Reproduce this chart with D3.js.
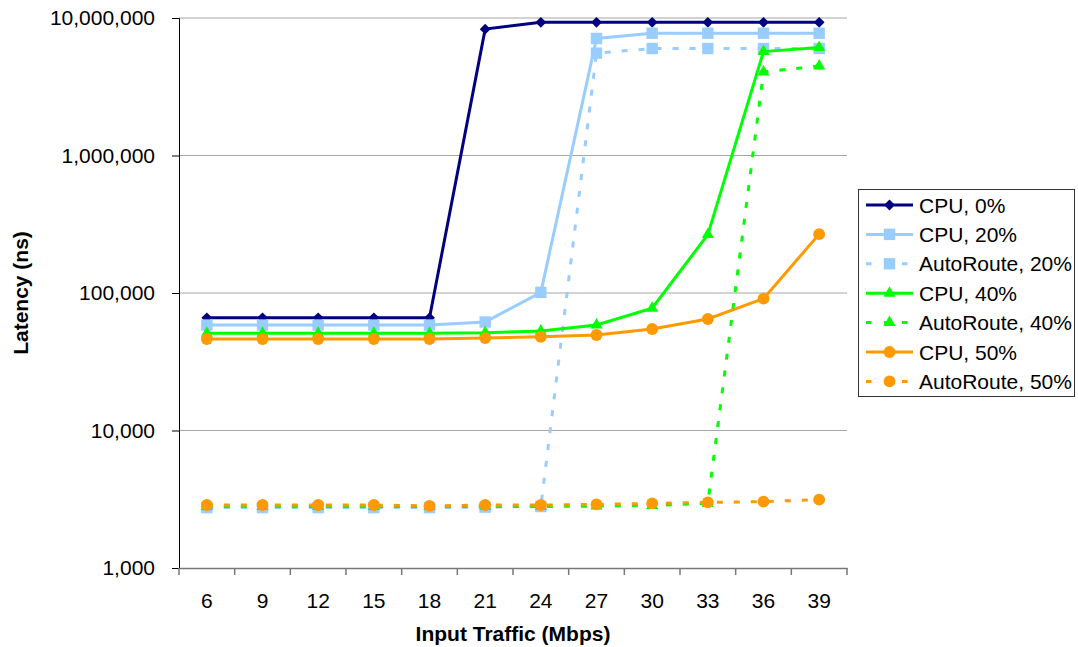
<!DOCTYPE html>
<html>
<head>
<meta charset="utf-8">
<script src="https://cdn.jsdelivr.net/npm/d3@7"></script>
<style>
  body { margin: 0; background: #fff; }
  svg { display: block; font-family: "Liberation Sans", Arial, sans-serif; }
</style>
</head>
<body>
<div class="chart"></div>
<script>
// values
const traffic = [6, 9, 12, 15, 18, 21, 24, 27, 30, 33, 36, 39];
const cpu0  = [66000, 66000, 66000, 66000, 66000, 8300000, 9300000, 9300000, 9300000, 9300000, 9300000, 9300000];
const cpu20 = [58500, 58500, 58500, 58500, 58500, 61500, 101000, 7100000, 7750000, 7750000, 7750000, 7750000];
const ar20  = [2750, 2750, 2750, 2750, 2750, 2770, 2800, 5550000, 6000000, 6000000, 6000000, 6000000];
const cpu40 = [51000, 51000, 51000, 51000, 51000, 51300, 52900, 58500, 77500, 266000, 5700000, 6100000];
const ar40  = [2800, 2800, 2800, 2800, 2800, 2800, 2800, 2820, 2850, 2950, 4050000, 4480000];
const cpu50 = [46300, 46300, 46300, 46300, 46300, 47000, 48000, 49500, 54700, 64700, 91000, 268000];
const ar50  = [2870, 2870, 2870, 2870, 2830, 2870, 2870, 2900, 2950, 3000, 3040, 3140];
const yTicks = [1000, 10000, 100000, 1000000, 10000000];

const seriesNames = ["CPU, 0%", "CPU, 20%", "AutoRoute, 20%", "CPU, 40%", "AutoRoute, 40%", "CPU, 50%", "AutoRoute, 50%"];
const seriesValues = [cpu0, cpu20, ar20, cpu40, ar40, cpu50, ar50];
const seriesColors = ["#000080", "#99ccff", "#99ccff", "#00ff00", "#00ff00", "#ff9900", "#ff9900"];
const seriesDashed = [false, false, true, false, true, false, true];
const seriesMarker = ["diamond", "square", "square", "triangle", "triangle", "circle", "circle"];

const series = seriesNames.map((name, i) => ({
  name: name,
  values: seriesValues[i].map((v, j) => ({x: traffic[j], y: v})),
  color: seriesColors[i],
  dashed: seriesDashed[i],
  marker: seriesMarker[i]
}));

const width = 1078, height = 647;
const dim = {left: 179, right: 847, top: 18, bottom: 568};

const svg = d3.select(".chart").append("svg")
  .attr("width", width)
  .attr("height", height);

const x = d3.scaleBand()
  .domain(traffic)
  .range([dim.left, dim.right]);

const y = d3.scaleLog()
  .domain([1000, 10000000])
  .range([dim.bottom, dim.top]);

const cx = d => x(d) + x.bandwidth() / 2;

// gridlines
svg.append("g")
  .selectAll("line")
  .data(yTicks.slice(1))
  .enter()
  .append("line")
  .attr("x1", dim.left)
  .attr("x2", dim.right)
  .attr("y1", d => y(d))
  .attr("y2", d => y(d))
  .attr("stroke", "#a6a6a6")
  .attr("stroke-width", 1);

// y axis
const yAxis = svg.append("g")
  .attr("transform", `translate(${dim.left},0)`)
  .call(d3.axisLeft(y).tickValues(yTicks).tickFormat(d3.format(",")).tickSize(7).tickPadding(17));
yAxis.select(".domain").attr("stroke", "#000");
yAxis.selectAll(".tick line").attr("stroke", "#000");
yAxis.selectAll("text")
  .attr("font-size", "21px")
  .attr("font-family", "'Liberation Sans', Arial, sans-serif")
  .attr("fill", "#000");

// x axis: labels at band centres, ticks on band edges
const xAxis = svg.append("g")
  .attr("transform", `translate(0,${dim.bottom})`)
  .call(d3.axisBottom(x).tickSize(0).tickPadding(25));
xAxis.select(".domain").attr("stroke", "#777").attr("stroke-width", 1.5);
xAxis.selectAll("text")
  .attr("font-size", "21px")
  .attr("font-family", "'Liberation Sans', Arial, sans-serif")
  .attr("fill", "#000");

svg.append("g")
  .selectAll("line")
  .data(traffic.map(d => x(d)).concat([x.range()[1]]))
  .enter()
  .append("line")
  .attr("x1", d => d)
  .attr("x2", d => d)
  .attr("y1", dim.bottom)
  .attr("y2", dim.bottom + 7)
  .attr("stroke", "#777")
  .attr("stroke-width", 1.5);

// axis titles
svg.append("text")
  .attr("x", (dim.left + dim.right) / 2)
  .attr("y", 641)
  .attr("text-anchor", "middle")
  .attr("font-weight", "bold")
  .attr("font-size", "21px")
  .text("Input Traffic (Mbps)");

svg.append("text")
  .attr("transform", `translate(28,${(dim.top + dim.bottom) / 2}) rotate(-90)`)
  .attr("text-anchor", "middle")
  .attr("font-weight", "bold")
  .attr("font-size", "21px")
  .text("Latency (ns)");

const markerPath = (type) => {
  if (type == "diamond") return d3.symbol().type(d3.symbolDiamond2).size(75)();
  if (type == "square") return d3.symbol().type(d3.symbolSquare).size(130)();
  if (type == "triangle") return d3.symbol().type(d3.symbolTriangle2).size(105)();
  return d3.symbol().type(d3.symbolCircle).size(110)();
};

const line = d3.line()
  .x(d => cx(d.x))
  .y(d => y(d.y));

const plot = svg.append("g");

series.forEach(s => {
  const g = plot.append("g");
  g.append("path")
    .attr("d", line(s.values))
    .attr("fill", "none")
    .attr("stroke", s.color)
    .attr("stroke-width", 3)
    .attr("stroke-dasharray", s.dashed ? "6,11" : null);
  g.selectAll("path.m")
    .data(s.values)
    .enter()
    .append("path")
    .attr("class", "m")
    .attr("d", markerPath(s.marker))
    .attr("transform", d => `translate(${cx(d.x)},${y(d.y)})`)
    .attr("fill", s.color);
});

// legend
const legend = svg.append("g");
legend.append("rect")
  .attr("x", 858.5)
  .attr("y", 189.5)
  .attr("width", 216)
  .attr("height", 207)
  .attr("fill", "#fff")
  .attr("stroke", "#333")
  .attr("stroke-width", 1);

const items = legend.selectAll("g.item")
  .data(series)
  .enter()
  .append("g")
  .attr("class", "item")
  .attr("transform", (d, i) => `translate(0,${205 + i * 29.4})`);

items.append("line")
  .attr("x1", 866)
  .attr("x2", 913)
  .attr("stroke", d => d.color)
  .attr("stroke-width", 3)
  .attr("stroke-dasharray", d => d.dashed ? "5.5,12.5" : null);

items.append("path")
  .attr("d", d => markerPath(d.marker))
  .attr("transform", "translate(889.5,0)")
  .attr("fill", d => d.color);

items.append("text")
  .attr("x", 919)
  .attr("y", 7.5)
  .attr("font-size", "21px")
  .text(d => d.name);
</script>
</body>
</html>
